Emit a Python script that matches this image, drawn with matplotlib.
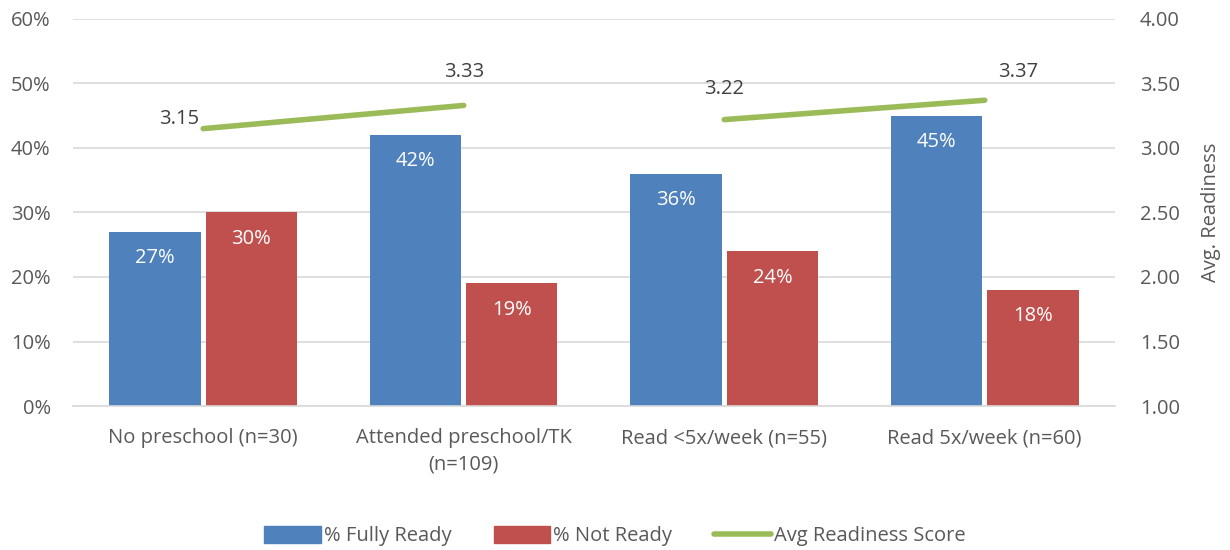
import matplotlib
matplotlib.use("Agg")
import matplotlib.pyplot as plt
import numpy as np
from matplotlib.lines import Line2D
from matplotlib.patches import Patch

plt.rcParams['font.family'] = ['Open Sans', 'DejaVu Sans']

categories = ["No preschool (n=30)", "Attended preschool/TK\n(n=109)",
              "Read <5x/week (n=55)", "Read 5x/week (n=60)"]
fully_ready = [27, 42, 36, 45]
not_ready = [30, 19, 24, 18]
avg_score = [3.15, 3.33, 3.22, 3.37]
# the score line links each pair of related groups
line_segments = [(0, 1), (2, 3)]

BLUE = "#4F81BD"
RED = "#C0504D"
GREEN = "#9BBB59"
TEXT = "#595959"
GRID = "#D9D9D9"
FS = 14.5

fig = plt.figure(figsize=(12.3, 5.5), dpi=100)
ax = fig.add_axes([0.0593, 0.2618, 0.9065 - 0.0593, 0.9655 - 0.2618])
ax2 = ax.twinx()

x = np.arange(len(categories))
w = 0.35
gap = 0.01
b1 = ax.bar(x - w / 2 - gap, fully_ready, w, color=BLUE, zorder=2)
b2 = ax.bar(x + w / 2 + gap, not_ready, w, color=RED, zorder=2)

for rect, v in zip(b1, fully_ready):
    ax.annotate(f"{v}%", (rect.get_x() + rect.get_width() / 2, v),
                xytext=(0, -19), textcoords="offset points", ha="center",
                va="center", color="white", fontsize=FS, zorder=3)
for rect, v in zip(b2, not_ready):
    ax.annotate(f"{v}%", (rect.get_x() + rect.get_width() / 2, v),
                xytext=(0, -19), textcoords="offset points", ha="center",
                va="center", color="white", fontsize=FS, zorder=3)

ax.set_xlim(-0.5, len(categories) - 0.5)
ax.set_ylim(0, 60)
ax.set_yticks(range(0, 61, 10))
ax.set_yticklabels([f"{t}%" for t in range(0, 61, 10)])
ax.yaxis.grid(True, color=GRID, linewidth=1.2, zorder=0)
ax.set_axisbelow(True)
ax.set_xticks(x)
ax.set_xticklabels(categories, linespacing=1.45)
ax.tick_params(axis="both", length=0, colors=TEXT, labelsize=FS)
ax.tick_params(axis="x", pad=16)
ax.tick_params(axis="y", pad=16)
for s in ax.spines.values():
    s.set_visible(False)
ax.spines["bottom"].set_visible(True)
ax.spines["bottom"].set_color(GRID)
ax.spines["bottom"].set_linewidth(1.2)

for i0, i1 in line_segments:
    ax2.plot([x[i0], x[i1]], [avg_score[i0], avg_score[i1]], color=GREEN,
             linewidth=4, solid_capstyle="round", zorder=4)

label_offsets = [(-17, 7), (0, 24), (0, 22), (24, 20)]
for xi, v, off in zip(x, avg_score, label_offsets):
    ax2.annotate(f"{v:.2f}", (xi, v), xytext=off, textcoords="offset points",
                 ha="center", va="center", color="#404040", fontsize=FS)

ax2.set_ylim(1.0, 4.0)
ax2.set_yticks(np.arange(1.0, 4.01, 0.5))
ax2.set_yticklabels([f"{t:.2f}" for t in np.arange(1.0, 4.01, 0.5)])
ax2.tick_params(axis="y", length=0, colors=TEXT, labelsize=FS, pad=18)
ax2.set_ylabel("Avg. Readiness", color=TEXT, fontsize=FS, labelpad=15)
for s in ax2.spines.values():
    s.set_visible(False)

handles = [Patch(color=BLUE, label="% Fully Ready"),
           Patch(color=RED, label="% Not Ready"),
           Line2D([0], [0], color=GREEN, linewidth=4, solid_capstyle="round",
                  label="Avg Readiness Score")]
leg = fig.legend(handles=handles, loc="center", bbox_to_anchor=(0.5, 0.025),
                 ncol=3, frameon=False, fontsize=FS, handlelength=2.8,
                 handleheight=0.9, columnspacing=2.1, handletextpad=0.15)
for t in leg.get_texts():
    t.set_color(TEXT)

fig.savefig("out.png", dpi=100)
